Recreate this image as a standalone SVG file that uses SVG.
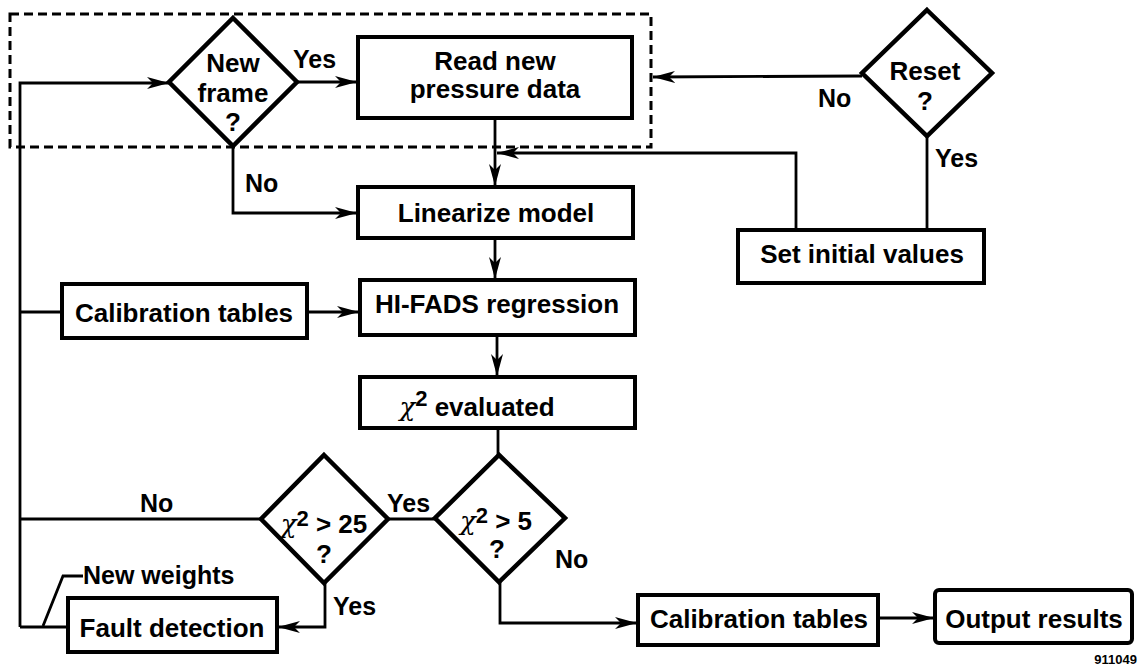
<svg xmlns="http://www.w3.org/2000/svg" width="1139" height="668" viewBox="0 0 1139 668">
<style>
text{font-family:"Liberation Sans",Arial,sans-serif;font-weight:bold;fill:#000}
.t{font-size:26px;text-anchor:middle}
.l{font-size:25px}
.box{fill:#fff;stroke:#000;stroke-width:4}
.dia{fill:#fff;stroke:#000;stroke-width:4.5;stroke-linejoin:miter}
.c{fill:none;stroke:#000;stroke-width:2.8}
.dash{fill:none;stroke:#000;stroke-width:3;stroke-dasharray:9 5}
.chi{font-family:"DejaVu Serif",serif;font-style:italic;font-weight:normal}
</style>
<defs>
<marker id="ah" markerUnits="userSpaceOnUse" markerWidth="24" markerHeight="16" refX="22" refY="8" orient="auto">
<path d="M0,2 L22,8 L0,14 L6,8 Z" fill="#000"/>
</marker>
</defs>
<rect width="1139" height="668" fill="#fff"/>
<rect class="dash" x="10" y="14" width="641" height="133"/>
<g id="connectors">
<polyline class="c" points="20,627 20,83 169,83" marker-end="url(#ah)"/>
<line class="c" x1="297" y1="82" x2="357" y2="82" marker-end="url(#ah)"/>
<line class="c" x1="495" y1="118" x2="495" y2="186" marker-end="url(#ah)"/>
<polyline class="c" points="233,146 233,213 357,213" marker-end="url(#ah)"/>
<line class="c" x1="862" y1="76" x2="653" y2="77" marker-end="url(#ah)"/>
<line class="c" x1="927" y1="136" x2="927" y2="230"/>
<polyline class="c" points="796,230 796,153 497,153" marker-end="url(#ah)"/>
<line class="c" x1="495" y1="238" x2="495" y2="279" marker-end="url(#ah)"/>
<line class="c" x1="20" y1="312" x2="62" y2="312"/>
<line class="c" x1="307" y1="312" x2="359" y2="312" marker-end="url(#ah)"/>
<line class="c" x1="497" y1="335" x2="497" y2="376" marker-end="url(#ah)"/>
<line class="c" x1="498" y1="428" x2="498" y2="455"/>
<line class="c" x1="388" y1="519" x2="435" y2="519"/>
<line class="c" x1="261" y1="519" x2="20" y2="519"/>
<polyline class="c" points="325,583 325,627 278,627" marker-end="url(#ah)"/>
<line class="c" x1="20" y1="627" x2="68" y2="627"/>
<polyline class="c" points="43,626 63,576 83,576"/>
<polyline class="c" points="500,582 500,623 637,623" marker-end="url(#ah)"/>
<line class="c" x1="878" y1="618" x2="934" y2="618" marker-end="url(#ah)"/>
</g>
<g id="labels">
<text class="l" x="293" y="68">Yes</text>
<text class="l" x="245" y="192">No</text>
<text class="l" x="818" y="107">No</text>
<text class="l" x="935" y="167">Yes</text>
<text class="l" x="140" y="512">No</text>
<text class="l" x="387" y="512">Yes</text>
<text class="l" x="333" y="615">Yes</text>
<text class="l" x="555" y="568">No</text>
<text class="l" x="83" y="584">New weights</text>
</g>
<g id="new-frame">
<polygon class="dia" points="233,18 297,82 233,146 169,82"/>
<text class="t" x="233" y="72">New</text>
<text class="t" x="233" y="102">frame</text>
<text class="t" x="233" y="131">?</text>
</g>
<g id="read-data">
<rect class="box" x="358" y="37" width="274" height="81"/>
<text class="t" x="495" y="70">Read new</text>
<text class="t" x="495" y="98">pressure data</text>
</g>
<g id="reset">
<polygon class="dia" points="927,10 992,73 927,136 862,73"/>
<text class="t" x="925" y="80">Reset</text>
<text class="t" x="925" y="110">?</text>
</g>
<g id="linearize">
<rect class="box" x="358" y="187" width="275" height="51"/>
<text class="t" x="496" y="222">Linearize model</text>
</g>
<g id="set-initial">
<rect class="box" x="738" y="230" width="246" height="53"/>
<text class="t" x="862" y="263">Set initial values</text>
</g>
<g id="calib-left">
<rect class="box" x="62" y="284" width="245" height="54"/>
<text class="t" x="184" y="322">Calibration tables</text>
</g>
<g id="hifads">
<rect class="box" x="360" y="280" width="275" height="55"/>
<text class="t" x="497" y="313">HI-FADS regression</text>
</g>
<g id="chi-eval">
<rect class="box" x="360" y="377" width="275" height="51"/>
<text class="t" x="477" y="416"><tspan class="chi">χ</tspan><tspan font-size="22" dy="-10">2</tspan><tspan dy="10"> evaluated</tspan></text>
</g>
<g id="chi25">
<polygon class="dia" points="324,455 388,519 324,583 261,519"/>
<text class="t" x="324" y="533"><tspan class="chi">χ</tspan><tspan font-size="22" dy="-7">2</tspan><tspan dy="7"> &gt; 25</tspan></text>
<text class="t" x="324" y="563">?</text>
</g>
<g id="chi5">
<polygon class="dia" points="499,455 565,518 499,582 435,518"/>
<text class="t" x="496" y="530"><tspan class="chi">χ</tspan><tspan font-size="22" dy="-7">2</tspan><tspan dy="7"> &gt; 5</tspan></text>
<text class="t" x="497" y="558">?</text>
</g>
<g id="fault">
<rect class="box" x="68" y="598" width="209" height="54"/>
<text class="t" x="172" y="637">Fault detection</text>
</g>
<g id="calib-bottom">
<rect class="box" x="638" y="595" width="240" height="50"/>
<text class="t" x="759" y="628">Calibration tables</text>
</g>
<g id="output">
<rect class="box" x="935" y="590" width="197" height="53" rx="4"/>
<text class="t" x="1034" y="628">Output results</text>
</g>
<text x="1137" y="664" font-size="13" text-anchor="end">911049</text>
</svg>
